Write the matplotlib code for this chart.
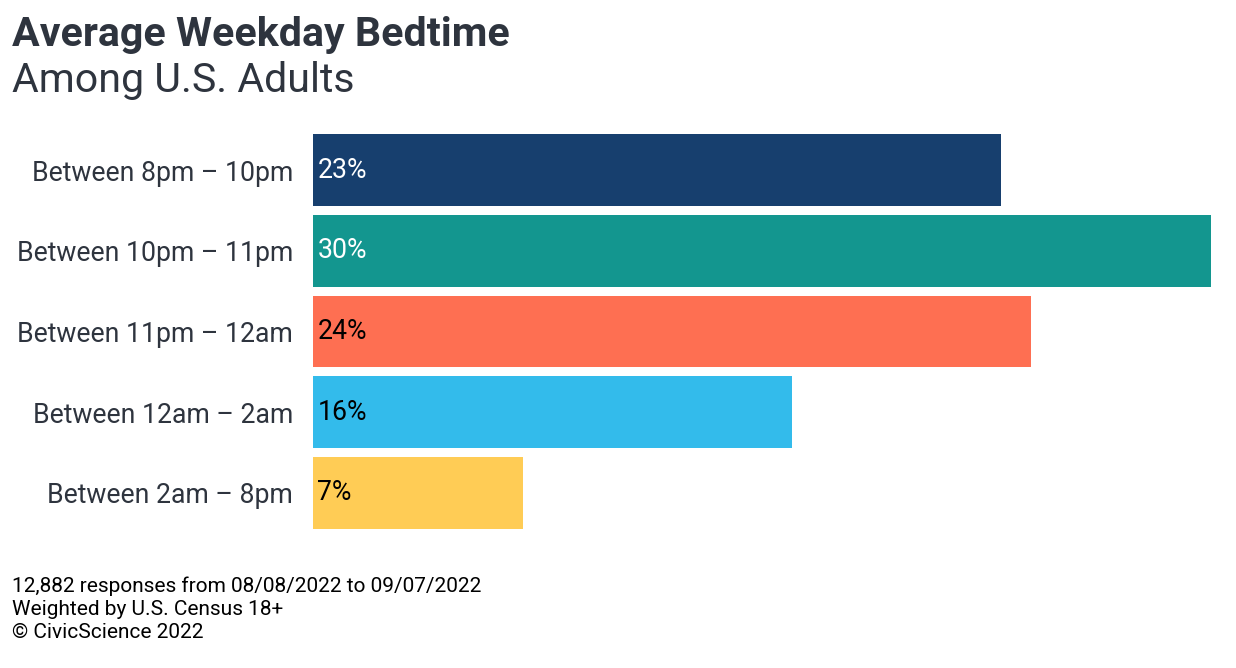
import matplotlib
matplotlib.use("Agg")
import matplotlib.pyplot as plt

categories = ["Between 8pm – 10pm", "Between 10pm – 11pm", "Between 11pm – 12am",
              "Between 12am – 2am", "Between 2am – 8pm"]
values = [23, 30, 24, 16, 7]
colors = ["#173F6E", "#13968F", "#FE6F52", "#33BBEB", "#FFCC55"]
label_colors = ["white", "white", "black", "black", "black"]

plt.rcParams['font.family'] = ['Roboto', 'DejaVu Sans']
TXT = "#2E343E"

W, H = 1236, 668
fig = plt.figure(figsize=(W/100, H/100), dpi=100)
ax = fig.add_axes([313/W, 1-533.35/H, (1211-313)/W, (533.35-129.65)/H])

y = list(range(len(categories)))
ax.barh(y, values, height=0.89, color=colors)
ax.set_xlim(0, 30)
ax.set_ylim(len(categories)-0.5, -0.5)
ax.set_yticks(y)
ax.set_yticklabels(categories, fontsize=19.2, color=TXT)
ax.tick_params(axis='y', length=0, pad=14.4)
ax.set_xticks([])
for s in ax.spines.values():
    s.set_visible(False)

for i, v in enumerate(values):
    ax.text(0.15, i, f"{v}%", va='center', ha='left', fontsize=19.2, color=label_colors[i])

fig.text(12/W, 1-35/H, "Average Weekday Bedtime", fontsize=29.6, fontweight='bold',
         color=TXT, va='center', ha='left')
fig.text(12/W, 1-81/H, "Among U.S. Adults", fontsize=29.6, color=TXT, va='center', ha='left')

footer = ["12,882 responses from 08/08/2022 to 09/07/2022",
          "Weighted by U.S. Census 18+",
          "© CivicScience 2022"]
for k, line in enumerate(footer):
    fig.text(12/W, 1-(586 + k*23.5)/H, line, fontsize=15, color="black", va='center', ha='left')

fig.savefig("out.png", dpi=100)
